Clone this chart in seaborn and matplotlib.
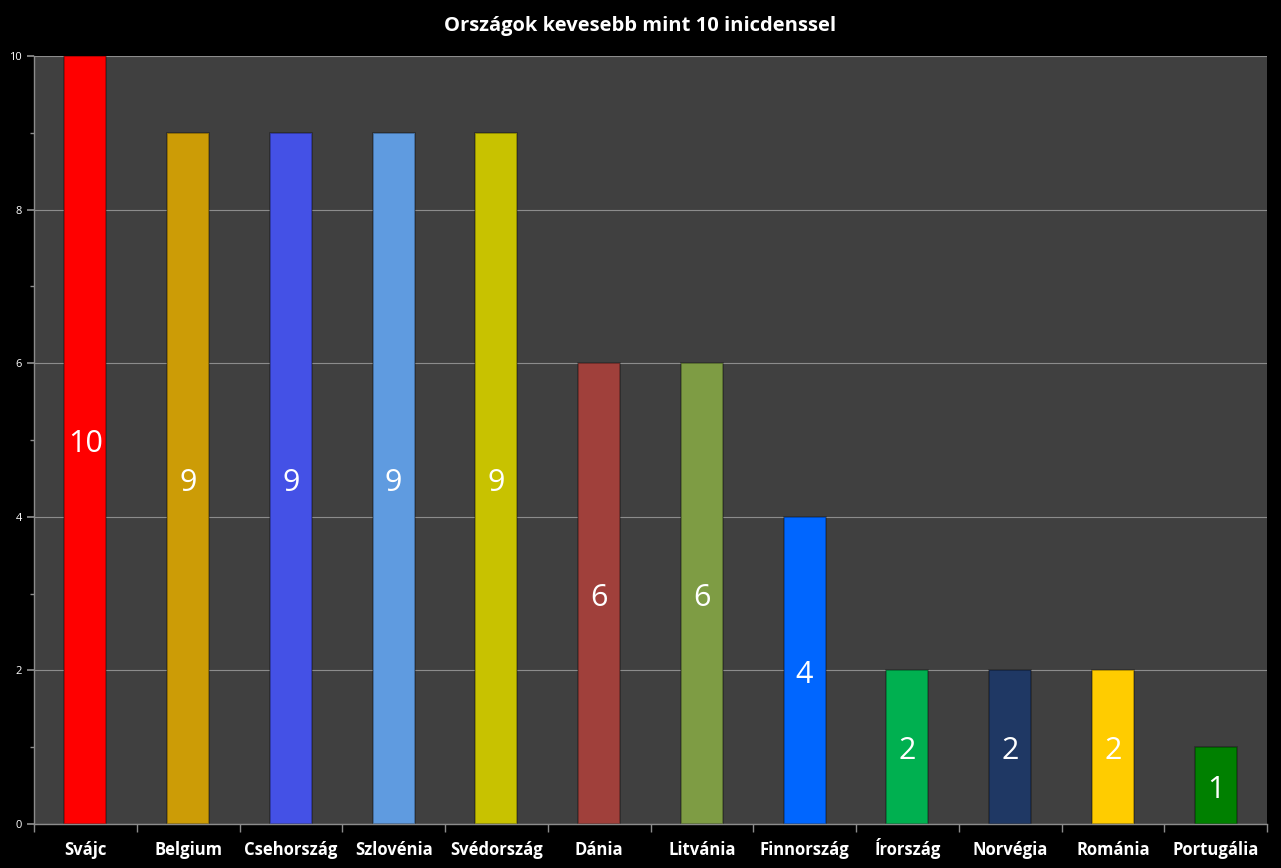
import matplotlib
matplotlib.use("Agg")
import matplotlib.pyplot as plt
import seaborn as sns
import pandas as pd
from matplotlib.ticker import MultipleLocator

countries = ["Svájc", "Belgium", "Csehország", "Szlovénia", "Svédország", "Dánia",
             "Litvánia", "Finnország", "Írország", "Norvégia", "Románia", "Portugália"]
values = [10, 9, 9, 9, 9, 6, 6, 4, 2, 2, 2, 1]
colors = ["#FF0000", "#CC9C06", "#4451E6", "#5F9BE0", "#C8C200", "#A0403B",
          "#7E9C44", "#0066FF", "#00B050", "#1F3864", "#FFCC00", "#008000"]
title = "Országok kevesebb mint 10 inicdenssel"

df = pd.DataFrame({"country": countries, "value": values})

sns.set_theme(style="dark")
plt.rcParams["font.family"] = ["Open Sans", "DejaVu Sans"]

fig = plt.figure(figsize=(12.81, 8.68), dpi=100, facecolor="black")
ax = fig.add_axes([34/1281, 1-824/868, (1267-34)/1281, (824-56)/868])
ax.set_facecolor("#404040")

sns.barplot(data=df, x="country", y="value", hue="country", palette=colors,
            legend=False, width=0.41, ax=ax, saturation=1,
            edgecolor="#00000055", linewidth=1.2)

for i, v in enumerate(values):
    ax.annotate(str(v), xy=(i, v / 2), xytext=(0, -3), textcoords="offset points",
                ha="center", va="center", color="white", fontsize=22)

ax.set_ylim(0, 10)
ax.set_xlim(-0.5, len(countries) - 0.5)
ax.yaxis.set_major_locator(MultipleLocator(2))
ax.yaxis.set_minor_locator(MultipleLocator(1))
ax.grid(axis="y", which="major", color="#8c8c8c", linewidth=0.8)
ax.grid(axis="x", visible=False)
ax.set_axisbelow(True)

ax.set_xticks([i - 0.5 for i in range(len(countries) + 1)], minor=True)
ax.set_xticks(range(len(countries)))
ax.set_xticklabels(countries, fontsize=12, fontweight="bold", color="white")
for lbl in ax.get_xticklabels():
    lbl.set_va("baseline")
ax.tick_params(axis="x", which="major", length=0, pad=22.5)
ax.tick_params(axis="x", which="minor", length=6, color="#8c8c8c", width=1, bottom=True)
ax.tick_params(axis="y", which="major", length=5, color="#8c8c8c", labelsize=8,
               labelcolor="white", left=True)
ax.tick_params(axis="y", which="minor", length=3, color="#8c8c8c", left=True)
ax.set_xlabel("")
ax.set_ylabel("")

for side in ["top", "right"]:
    ax.spines[side].set_visible(False)
for side in ["left", "bottom"]:
    ax.spines[side].set_visible(True)
    ax.spines[side].set_color("#8c8c8c")
    ax.spines[side].set_linewidth(1)

fig.text(0.5, 1 - 26/868, title, ha="center", va="center", color="white",
         fontsize=14.5, fontweight="bold")

fig.savefig("out.png", dpi=100, facecolor="black")
